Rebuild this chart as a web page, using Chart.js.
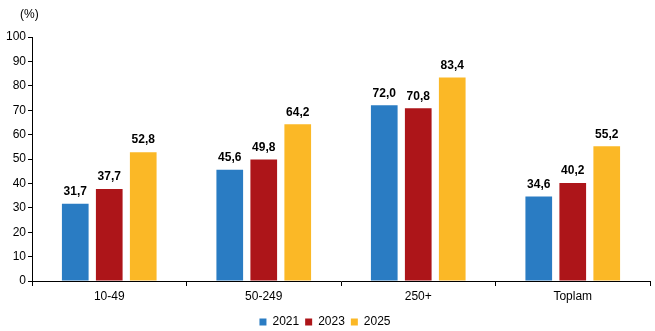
<!DOCTYPE html>
<html>
<head>
<meta charset="utf-8">
<script src="https://cdn.jsdelivr.net/npm/chart.js@4.4.0/dist/chart.umd.min.js"></script>
<style>
  html, body { margin: 0; padding: 0; background: #fff; }
  #wrap { width: 655px; height: 331px; }
</style>
</head>
<body>
<div id="wrap"><canvas id="chart" width="655" height="331"></canvas></div>
<script>
const categories = ['10-49', '50-249', '250+', 'Toplam'];
const years = ['2021', '2023', '2025'];
const values2021 = [31.7, 45.6, 72.0, 34.6];
const values2023 = [37.7, 49.8, 70.8, 40.2];
const values2025 = [52.8, 64.2, 83.4, 55.2];
const yTicks = [0, 10, 20, 30, 40, 50, 60, 70, 80, 90, 100];
const colors = ['#2a7cc3', '#ad1519', '#fbb826'];

const FONT = "'Liberation Sans', Arial, sans-serif";

// draw the value labels above bars (comma decimal)
const barLabels = {
    id: 'barLabels',
    afterDatasetsDraw(chart) {
        const ctx = chart.ctx;
        ctx.save();
        ctx.font = 'bold 12px ' + FONT;
        ctx.fillStyle = '#000';
        ctx.textAlign = 'center';
        ctx.textBaseline = 'bottom';
        chart.data.datasets.forEach((ds, i) => {
            chart.getDatasetMeta(i).data.forEach((bar, j) => {
                const txt = ds.data[j].toFixed(1).replace('.', ',');
                ctx.fillText(txt, bar.x, bar.y - 6);
            });
        });
        ctx.restore();
    }
};

// "(%)" unit label above the y axis
const unitLabel = {
    id: 'unitLabel',
    afterDraw(chart) {
        const ctx = chart.ctx;
        ctx.save();
        ctx.font = '12px ' + FONT;
        ctx.fillStyle = '#000';
        ctx.textAlign = 'left';
        ctx.textBaseline = 'middle';
        ctx.fillText('(%)', 20, 15);
        ctx.restore();
    }
};

new Chart(document.getElementById('chart'), {
    type: 'bar',
    data: {
        labels: categories,
        datasets: [
            { label: years[0], data: values2021, backgroundColor: colors[0] },
            { label: years[1], data: values2023, backgroundColor: colors[1] },
            { label: years[2], data: values2025, backgroundColor: colors[2] }
        ]
    },
    options: {
        responsive: false,
        animation: false,
        layout: { padding: { top: 37, right: 5, left: 0, bottom: -7 } },
        datasets: { bar: { categoryPercentage: 0.66, barPercentage: 0.785 } },
        plugins: {
            legend: {
                position: 'bottom',
                labels: {
                    boxWidth: 7,
                    boxHeight: 7,
                    padding: 6,
                    color: '#000',
                    font: { family: FONT, size: 12 }
                }
            },
            tooltip: { enabled: false }
        },
        scales: {
            x: {
                afterFit(scale) { scale.height = 29; },
                grid: {
                    offset: true,
                    drawOnChartArea: false,
                    tickLength: 5,
                    color: '#000'
                },
                border: { color: '#000' },
                ticks: { color: '#000', font: { family: FONT, size: 12 }, padding: 3 }
            },
            y: {
                min: 0,
                max: 100,
                afterBuildTicks(scale) {
                    scale.ticks = yTicks.map(v => ({ value: v }));
                },
                afterFit(scale) { scale.width = 32; },
                grid: {
                    drawOnChartArea: false,
                    tickLength: 4,
                    color: '#000'
                },
                border: { color: '#000' },
                ticks: { color: '#000', font: { family: FONT, size: 12 }, padding: 2 }
            }
        }
    },
    plugins: [barLabels, unitLabel]
});
</script>
</body>
</html>
